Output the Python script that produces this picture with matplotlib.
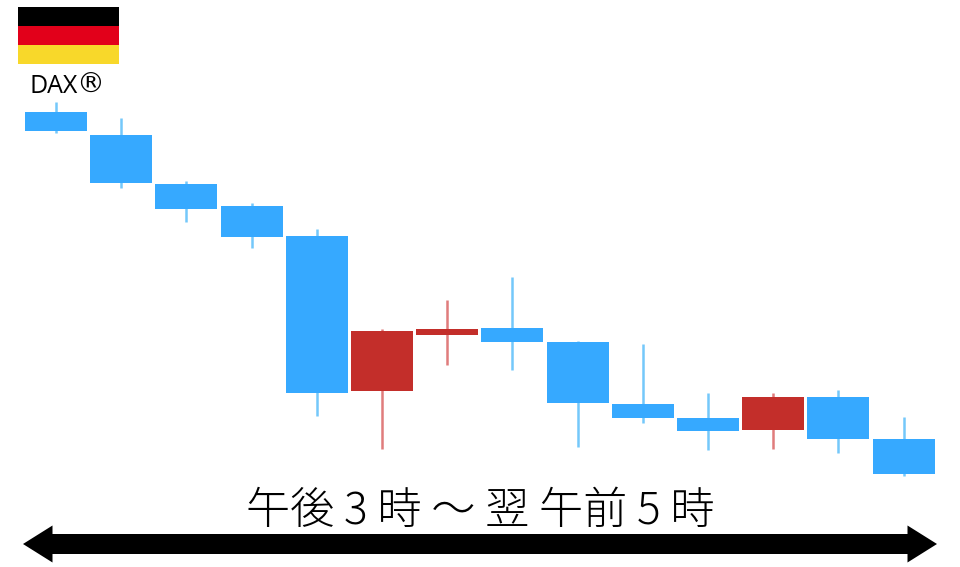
import matplotlib
matplotlib.use("Agg")
import matplotlib.pyplot as plt
from matplotlib.patches import Rectangle, Polygon

plt.rcParams['font.family'] = ['Noto Sans CJK JP', 'DejaVu Sans']

# Values (vertical scale: height above the figure's bottom edge)
body_top = [455, 432, 383, 361, 331, 236, 238, 239, 225, 163, 149, 170, 170, 128]
body_bot = [436, 384, 358, 330, 174, 176, 232, 225, 164, 149, 136, 137, 128, 93]
high = [465, 449, 386, 364, 338, 238, 267, 290, 226, 223, 174, 174, 177, 150]
low = [434, 379, 345, 319, 151, 118, 202, 197, 120, 144, 117, 118, 114, 91]
is_red = [False, False, False, False, False, True, True, False, False, False, False, True, False, False]

BLUE = '#36a9ff'
BLUE_WICK = '#74c8fa'
RED = '#c32e2a'
RED_WICK = '#e07c7c'

fig = plt.figure(figsize=(9.6, 5.67), dpi=100, facecolor='white')
ax = fig.add_axes([0, 0, 1, 1])
ax.set_xlim(-0.859, 13.865)
ax.set_ylim(0, 567)
ax.axis('off')

for i in range(len(body_top)):
    wick = RED_WICK if is_red[i] else BLUE_WICK
    face = RED if is_red[i] else BLUE
    ax.vlines(i, low[i], high[i], color=wick, linewidth=1.8, zorder=2)
    ax.bar(i, body_top[i] - body_bot[i], bottom=body_bot[i], width=0.95,
           color=face, linewidth=0, zorder=3)

# Overlay in figure-pixel coordinates
ov = fig.add_axes([0, 0, 1, 1], facecolor='none')
ov.set_xlim(0, 960)
ov.set_ylim(567, 0)
ov.axis('off')

flag_colors = ['#000000', '#e2001a', '#f8d82a']
for k, c in enumerate(flag_colors):
    ov.add_patch(Rectangle((18, 6.5 + 19.3 * k), 101, 19.3, facecolor=c, edgecolor='none'))
ov.text(30, 93, 'DAX', fontsize=18, ha='left', va='baseline', color='black',
        family=['Open Sans', 'DejaVu Sans'])
ov.text(104, 93, '®', fontsize=20, ha='right', va='baseline', color='black',
        family=['DejaVu Sans'])

ov.text(480, 511.5, '午後 3 時 ～ 翌 午前 5 時', fontsize=31.8, ha='center', va='center', color='black',
        fontweight='light')

ov.add_patch(Polygon([(23, 544), (52.5, 525.5), (52.5, 534), (907.5, 534), (907.5, 525.5),
                      (937, 544), (907.5, 562.5), (907.5, 554), (52.5, 554), (52.5, 562.5)],
                     closed=True, facecolor='black', edgecolor='none'))

fig.savefig('out.png', dpi=100)
